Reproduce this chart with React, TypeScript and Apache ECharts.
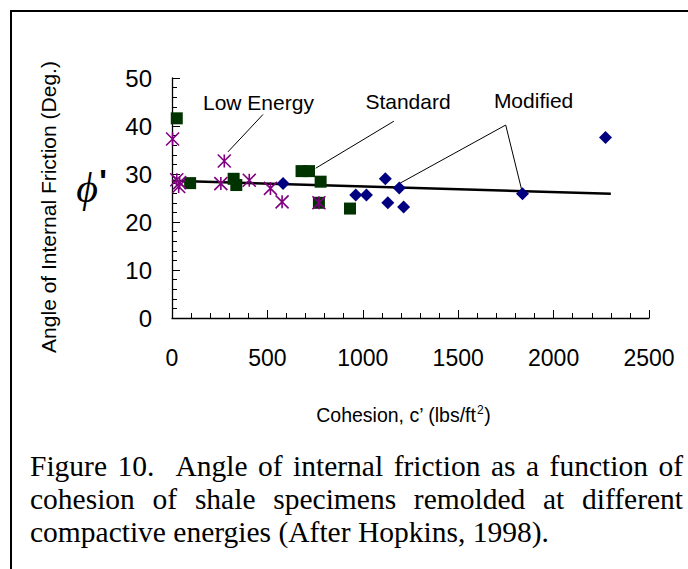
import React, { useEffect, useRef } from "react";
import * as echarts from "echarts";

// ---- data ----
const lowEnergy: number[][] = [
  [3, 37.3], [25, 28.8], [35, 27.4], [40, 28.2], [256, 28.0], [274, 32.7],
  [405, 28.7], [516, 27.0], [577, 24.2], [770, 24.0],
];
const standard: number[][] = [
  [25, 41.6], [95, 28.1], [323, 29.0], [337, 27.7], [679, 30.6], [718, 30.6],
  [779, 28.4], [770, 24.0], [933, 22.8],
];
const modified: number[][] = [
  [582, 28.0], [963, 25.6], [1019, 25.6], [1118, 29.0], [1131, 24.0],
  [1191, 27.1], [1214, 23.1], [1837, 25.9], [2272, 37.6],
];
const trend: number[][] = [[0, 28.6], [2300, 25.9]];

const leaderLow: number[][] = [[293, 34.6], [477, 42.4]];
const leaderStd: number[][] = [[753, 31.2], [1163, 41.0]];
const leaderMod: number[][] = [[1196, 28.1], [1749, 40.2], [1837, 26.0]];
const annotationNames = ["Low Energy", "Standard", "Modified"];
const annotationPos: number[][] = [[453, 44.8], [1237, 45.2], [1895, 45.4]];

const xMin = 0, xMax = 2500, xStep = 500;
const yMin = 0, yMax = 50, yStep = 10;

const yTitle = "Angle of Internal Friction (Deg.)";
const xTitleMain = "Cohesion, c\u2019 (lbs/ft";
const xTitleSup = "2";
const xTitleEnd = ")";
const captionLines = [
  "Figure 10.  Angle of internal friction as a function of",
  "cohesion of shale specimens remolded at different",
  "compactive energies (After Hopkins, 1998).",
];

const SANS = "'Liberation Sans', Arial, sans-serif";
const SERIF = "'Liberation Serif', 'Times New Roman', serif";

function measure(text: string, font: string): number {
  const c = document.createElement("canvas").getContext("2d")!;
  c.font = font;
  return c.measureText(text).width;
}

function txt(text: string, x: number, y: number, extra: any = {}, rot = 0): any {
  const st: any = {
    text, fill: "#000", fontFamily: SANS, fontSize: 20,
    textAlign: "left", textVerticalAlign: "middle", align: "left", verticalAlign: "middle",
    ...extra,
  };
  if (extra.textAlign) st.align = extra.textAlign;
  if (extra.textVerticalAlign) st.verticalAlign = extra.textVerticalAlign;
  return { type: "text", x, y, rotation: rot, style: st, silent: true };
}

export default function App() {
  const ref = useRef<HTMLDivElement>(null);
  useEffect(() => {
    document.body.style.margin = "0";
    const chart = echarts.init(ref.current!, undefined, { renderer: "svg" });

    const graphics: any[] = [];
    // frame
    graphics.push({
      type: "polyline", silent: true,
      shape: { points: [[11, 600], [11, 11], [720, 11]] },
      style: { stroke: "#000", lineWidth: 2, fill: "none" },
    });
    // y title
    graphics.push(txt(yTitle, 48, 207, { fontSize: 21, textAlign: "center" }, Math.PI / 2));
    // phi symbol
    graphics.push(txt("\u03d5", 87, 188, { fontSize: 42, fontFamily: SERIF, fontStyle: "italic", textAlign: "center" }));
    graphics.push(txt("'", 103, 181, { fontSize: 32, fontFamily: SANS, fontWeight: "bold", textAlign: "center" }));
    // x title with superscript
    const fMain = `19.5px ${SANS}`;
    const fSup = `12px ${SANS}`;
    const w1 = measure(xTitleMain, fMain);
    const w2 = measure(xTitleSup, fSup);
    const w3 = measure(xTitleEnd, fMain);
    let xs = 403 - (w1 + w2 + w3) / 2;
    graphics.push(txt(xTitleMain, xs, 415, { fontSize: 19.5 }));
    graphics.push(txt(xTitleSup, xs + w1 + 0.5, 410, { fontSize: 12 }));
    graphics.push(txt(xTitleEnd, xs + w1 + w2 + 1, 415, { fontSize: 19.5 }));
    // caption (justified)
    const capSize = 29.5;
    const capFont = `${capSize}px ${SERIF}`;
    const left = 30, right = 683;
    const ys = [466, 499, 532];
    captionLines.forEach((line, i) => {
      if (i === captionLines.length - 1) {
        graphics.push(txt(line, left, ys[i], { fontSize: capSize, fontFamily: SERIF }));
        return;
      }
      const words = line.split(" ");
      const widths = words.map((w) => measure(w, capFont));
      const total = widths.reduce((a, b) => a + b, 0);
      const gap = (right - left - total) / (words.length - 1);
      let x = left;
      words.forEach((w, k) => {
        if (w) graphics.push(txt(w, x, ys[i], { fontSize: capSize, fontFamily: SERIF }));
        x += widths[k] + gap;
      });
    });

    const leader = (data: number[][]) => ({
      type: "line", data, showSymbol: false, symbol: "none", silent: true,
      lineStyle: { color: "#000", width: 1 }, z: 1,
    });

    chart.setOption({
      animation: false,
      backgroundColor: "#fff",
      grid: { left: 172, top: 78, right: 39, bottom: 251, containLabel: false },
      xAxis: {
        type: "value", min: xMin, max: xMax, interval: xStep,
        axisLine: { show: true, onZero: false, lineStyle: { color: "#000", width: 1.3 } },
        axisTick: { show: true, inside: true, length: 8, lineStyle: { color: "#000" } },
        minorTick: { show: true, splitNumber: 5, length: 5, lineStyle: { color: "#000" } },
        splitLine: { show: false },
        axisLabel: {
          color: "#000", fontSize: 23, fontFamily: SANS, margin: 28,
          formatter: (v: number) => String(v),
        },
      },
      yAxis: {
        type: "value", min: yMin, max: yMax, interval: yStep,
        axisLine: { show: true, onZero: false, lineStyle: { color: "#000", width: 1.3 } },
        axisTick: { show: true, inside: true, length: 8, lineStyle: { color: "#000" } },
        minorTick: { show: true, splitNumber: 5, length: 5, lineStyle: { color: "#000" } },
        splitLine: { show: false },
        axisLabel: {
          color: "#000", fontSize: 24, fontFamily: SANS, margin: 20,
          formatter: (v: number) => String(v),
        },
      },
      graphic: { elements: graphics },
      series: [
        {
          type: "line", data: trend, showSymbol: false, symbol: "none",
          lineStyle: { color: "#000", width: 2.5 }, z: 2,
        },
        leader(leaderLow),
        leader(leaderStd),
        leader(leaderMod),
        {
          type: "scatter", data: standard, symbol: "rect", symbolSize: 12,
          itemStyle: { color: "#003300", opacity: 1 }, z: 3,
        },
        {
          type: "scatter", data: modified, symbol: "diamond", symbolSize: 13,
          itemStyle: { color: "#000080", opacity: 1 }, z: 4,
        },
        {
          type: "scatter", data: lowEnergy,
          symbol: "path://M0,0L10,10M10,0L0,10M5,0L5,10", symbolSize: 13,
          itemStyle: { color: "rgba(0,0,0,0)", borderColor: "#800080", borderWidth: 1.6, opacity: 1 }, z: 5,
        },
        {
          type: "scatter", silent: true, symbolSize: 1,
          itemStyle: { color: "rgba(0,0,0,0)", opacity: 1 },
          data: annotationNames.map((n, i) => ({ name: n, value: annotationPos[i] })),
          label: {
            show: true, position: "inside", formatter: (p: any) => p.name,
            color: "#000", opacity: 1, fontSize: 21, fontFamily: SANS, textBorderWidth: 0,
          },
          z: 6,
        },
      ],
    });
    return () => chart.dispose();
  }, []);
  return (
    <div
      ref={ref}
      style={{ position: "fixed", left: 0, top: 0, width: 688, height: 569, background: "#fff" }}
    />
  );
}
